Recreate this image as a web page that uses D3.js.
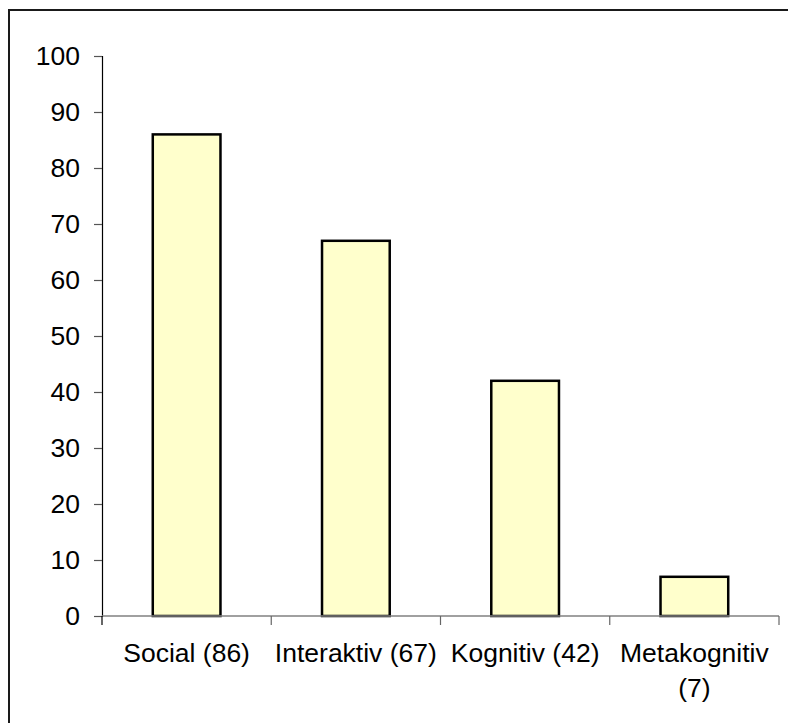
<!DOCTYPE html>
<html>
<head>
<meta charset="utf-8">
<script src="https://cdn.jsdelivr.net/npm/d3@7"></script>
<style>
  html, body { margin: 0; padding: 0; background: #fff; }
  svg { display: block; }
  text { font-family: "Liberation Sans", Arial, sans-serif; fill: #000; }
</style>
</head>
<body>
<svg id="chart" width="788" height="723"></svg>
<script>
// Category names and counts
const categories = ["Social", "Interaktiv", "Kognitiv", "Metakognitiv"];
const counts = [86, 67, 42, 7];
const yTicks = [0, 10, 20, 30, 40, 50, 60, 70, 80, 90, 100];

const svg = d3.select("#chart");
const W = 788, H = 723;
const plot = { left: 102, right: 779, top: 56, bottom: 616 };
const fontSize = 26.5;

// Outer frame (runs off the right and bottom edges)
svg.append("rect")
  .attr("x", 9).attr("y", 10)
  .attr("width", W).attr("height", H)
  .attr("fill", "none")
  .attr("stroke", "#1a1a1a")
  .attr("stroke-width", 2);

const x = d3.scaleBand()
  .domain(categories)
  .range([plot.left, plot.right])
  .paddingInner(0.6)
  .paddingOuter(0.3);

const step = x.step();

const y = d3.scaleLinear()
  .domain([0, 100])
  .range([plot.bottom, plot.top]);

// Bars
svg.append("g")
  .selectAll("rect")
  .data(categories)
  .join("rect")
  .attr("x", d => x(d))
  .attr("y", (d, i) => y(counts[i]))
  .attr("width", x.bandwidth())
  .attr("height", (d, i) => y(0) - y(counts[i]))
  .attr("fill", "#FFFFCC")
  .attr("stroke", "#000")
  .attr("stroke-width", 2.5);

// Y axis
const yAxis = svg.append("g")
  .attr("transform", `translate(${plot.left},0)`)
  .call(d3.axisLeft(y).tickValues(yTicks).tickSize(8).tickPadding(14).tickFormat(d3.format("d")));
yAxis.select(".domain").attr("stroke", "#000").attr("stroke-width", 1.2);
yAxis.selectAll(".tick line").attr("stroke", "#555").attr("stroke-width", 1.2);
yAxis.selectAll(".tick text")
  .attr("font-size", fontSize)
  .attr("font-family", "Liberation Sans, Arial, sans-serif")
  .attr("fill", "#000");

// X axis: baseline and category boundary ticks
const xg = svg.append("g");
xg.append("line")
  .attr("x1", plot.left).attr("x2", plot.right)
  .attr("y1", plot.bottom).attr("y2", plot.bottom)
  .attr("stroke", "#808080").attr("stroke-width", 1.5);
const bounds = d3.range(categories.length + 1).map(i => plot.left + i * step);
xg.selectAll("line.tick")
  .data(bounds)
  .join("line")
  .attr("class", "tick")
  .attr("x1", d => d).attr("x2", d => d)
  .attr("y1", plot.bottom).attr("y2", plot.bottom + 9)
  .attr("stroke", (d, i) => i === 0 ? "#000" : "#666")
  .attr("stroke-width", 1.2);

// Category labels, wrapped to fit each category slot
const labels = svg.append("g");
categories.forEach((c, i) => {
  const cx = x(c) + x.bandwidth() / 2;
  const full = `${c} (${counts[i]})`;
  const t = labels.append("text")
    .attr("x", cx).attr("y", plot.bottom + 46)
    .attr("text-anchor", "middle")
    .attr("font-size", fontSize)
    .text(full);
  if (t.node().getComputedTextLength() > step - 4) {
    const words = full.split(" ");
    t.text(null);
    let line = [];
    let tspan = t.append("tspan").attr("x", cx).attr("dy", 0);
    words.forEach(w => {
      line.push(w);
      tspan.text(line.join(" "));
      if (tspan.node().getComputedTextLength() > step - 4 && line.length > 1) {
        line.pop();
        tspan.text(line.join(" "));
        line = [w];
        tspan = t.append("tspan").attr("x", cx).attr("dy", 35).text(w);
      }
    });
  }
});
</script>
</body>
</html>
